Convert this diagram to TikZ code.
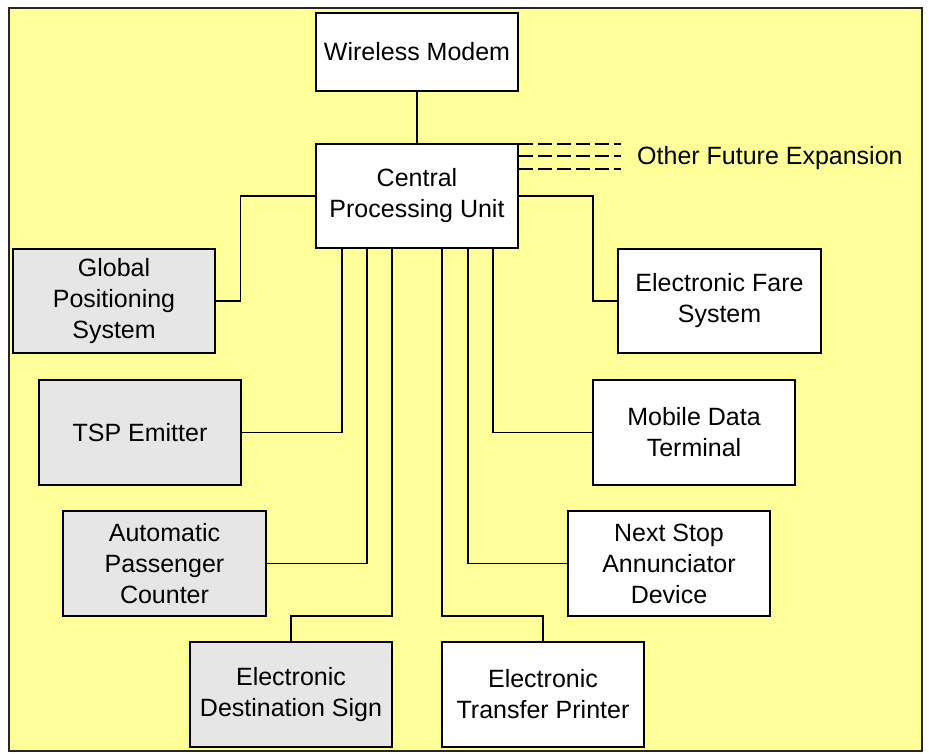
\documentclass[tikz,border=0pt]{standalone}
\usepackage{fontspec}
\setmainfont{Liberation Sans}
\definecolor{bgyellow}{HTML}{FFFF99}
\definecolor{boxgray}{HTML}{E6E6E6}
\begin{document}
\begin{tikzpicture}[x=1pt,y=-1pt,
  every node/.style={font=\fontsize{25}{31}\selectfont},
  unit/.style={draw=black,line width=1.3pt,fill=white,align=center,inner sep=0pt,
    minimum width=202pt,minimum height=105pt},
  grayunit/.style={unit,fill=boxgray},
  link/.style={draw=black,line width=1.3pt},
  future/.style={draw=black,line width=1.6pt,dash pattern=on 14pt off 5pt}]
\useasboundingbox (0,0) rectangle (929,754);
\draw[fill=bgyellow,draw=black!85,line width=1.6pt] (9,8) rectangle (922,751);
% nodes
\node[unit,minimum height=78pt] (modem) at (417,52) {Wireless Modem};
\node[unit,minimum height=104pt] (cpu) at (417,196) {Central\\Processing Unit};
\node[grayunit,minimum height=104pt] (gps) at (114,301) {Global\\Positioning\\System};
\node[grayunit] (tsp) at (140,432.5) {TSP Emitter};
\node[grayunit,minimum width=203pt] (apc) at (164.5,563.5) {Automatic\\Passenger\\Counter};
\node[grayunit] (eds) at (291,694.5) {Electronic\\Destination Sign};
\node[unit] (etp) at (543,694.5) {Electronic\\Transfer Printer};
\node[unit] (nsa) at (669,563.5) {Next Stop\\Annunciator\\Device};
\node[unit] (mdt) at (694,432.5) {Mobile Data\\Terminal};
\node[unit,minimum width=203pt,minimum height=104pt] (efs) at (719.5,301) {Electronic Fare\\System};
\node[anchor=west,inner sep=0pt] (other) at (637,158) {Other Future Expansion};
% connectors
\draw[link] (modem) -- (cpu);
\draw[link] (cpu.west) -- ++(-75,0) |- (gps.east);
\draw[link] ([xshift=-75pt]cpu.south) |- (tsp.east);
\draw[link] ([xshift=-50pt]cpu.south) |- (apc.east);
\draw[link] ([xshift=-25pt]cpu.south) |- (291,616) -- (eds.north);
\draw[link] ([xshift=25pt]cpu.south) |- (543,616) -- (etp.north);
\draw[link] ([xshift=51pt]cpu.south) |- (nsa.west);
\draw[link] ([xshift=76pt]cpu.south) |- (mdt.west);
\draw[link] (cpu.east) -| (593,301) -- (efs.west);
% future expansion
\draw[future] ([yshift=-0.5pt]cpu.north east) -- ++(102,0);
\draw[future] ([yshift=-12.5pt]cpu.north east) -- ++(102,0);
\draw[future] ([yshift=-25.5pt]cpu.north east) -- ++(102,0);
\end{tikzpicture}
\end{document}
